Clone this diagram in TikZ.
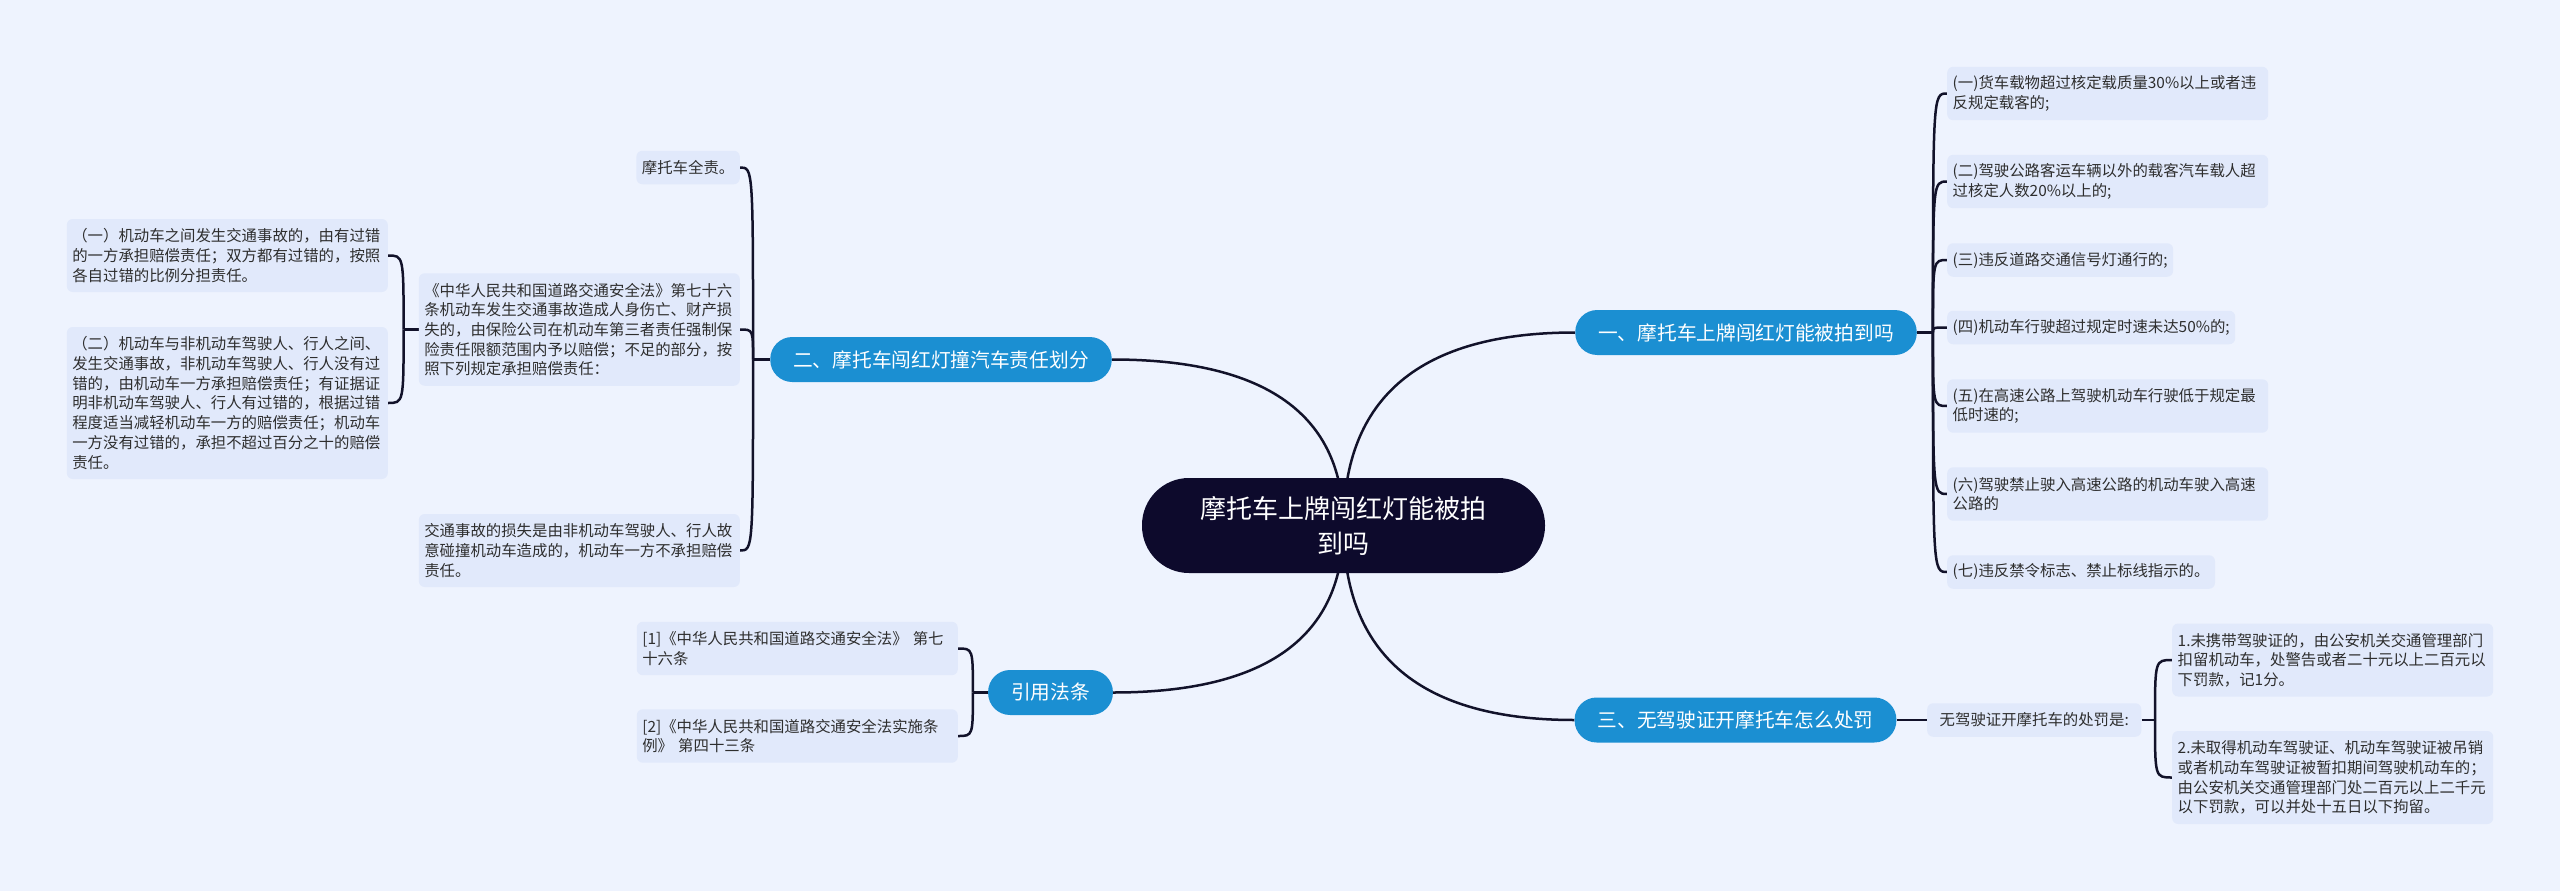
\documentclass[tikz,border=0pt]{standalone}
\usepackage{fontspec}
\newfontfamily\cjkf{Noto Sans CJK SC}
\usetikzlibrary{calc}
\pgfdeclarelayer{back}
\pgfdeclarelayer{links}
\pgfsetlayers{back,links,main}
\definecolor{bgc}{HTML}{EEF3FE}
\definecolor{leafc}{HTML}{E1E9FB}
\definecolor{brc}{HTML}{1B8FD2}
\definecolor{rootc}{HTML}{0D0A2C}
\definecolor{linec}{HTML}{12122A}
\definecolor{txtc}{HTML}{2E2E2E}
\tikzset{
  leaf/.style={fill=leafc, rounded corners=6pt, text=txtc, font=\cjkf\fontsize{15.4}{19.7}\selectfont, align=left, inner xsep=5.5pt, inner ysep=3pt},
  wide/.style={leaf, text width=310pt},
  branch/.style={fill=brc, text=white, rounded corners=22pt, minimum height=45pt, inner xsep=23pt, inner ysep=2pt, font=\cjkf\fontsize{19.7}{24}\selectfont},
  link/.style={draw=linec, line width=2.5pt},
  lnA/.style={minimum height=33.5pt},
  lnB/.style={minimum height=53.4pt},
  lnC/.style={minimum height=73pt},
  lnD/.style={minimum height=93pt},
  lnE/.style={minimum height=112.5pt},
  lnG/.style={minimum height=152pt},
}
\begin{document}
\begin{tikzpicture}[x=1pt,y=-1pt]
\useasboundingbox (0,0) rectangle (2560,891);
\begin{pgfonlayer}{back}
\fill[bgc] (0,0) rectangle (2560,891);
\end{pgfonlayer}

% root
\node[fill=rootc, text=white, rounded corners=47pt, minimum width=403pt, minimum height=95pt, align=center, inner sep=0pt, font=\cjkf\fontsize{26}{35}\selectfont] (root) at (1343.5,525.5) {摩托车上牌闯红灯能被拍\\到吗};

% branches
\node[branch] (b1) at (1746,332.5) {一、摩托车上牌闯红灯能被拍到吗};
\node[branch] (b2) at (941,359.5) {二、摩托车闯红灯撞汽车责任划分};
\node[branch] (b3) at (1735.5,720) {三、无驾驶证开摩托车怎么处罚};
\node[branch] (b4) at (1050.5,692.5) {引用法条};

% branch 1 leaves
\node[wide, lnB, anchor=west] (r1) at (1947,93.5) {(一)货车载物超过核定载质量30\%以上或者违\\反规定载客的;};
\node[wide, lnB, anchor=west] (r2) at (1947,181.5) {(二)驾驶公路客运车辆以外的载客汽车载人超\\过核定人数20\%以上的;};
\node[leaf, lnA, anchor=west] (r3) at (1947,260) {(三)违反道路交通信号灯通行的;};
\node[leaf, lnA, anchor=west] (r4) at (1947,327.5) {(四)机动车行驶超过规定时速未达50\%的;};
\node[wide, lnB, anchor=west] (r5) at (1947,406) {(五)在高速公路上驾驶机动车行驶低于规定最\\低时速的;};
\node[wide, lnB, anchor=west] (r6) at (1947,494) {(六)驾驶禁止驶入高速公路的机动车驶入高速\\公路的};
\node[leaf, lnA, anchor=west] (r7) at (1947,572) {(七)违反禁令标志、禁止标线指示的。};

% branch 2 leaves
\node[leaf, lnA, anchor=east] (l1) at (740,167.5) {摩托车全责。};
\node[wide, lnE, anchor=east] (l2) at (740,329.5) {《中华人民共和国道路交通安全法》第七十六\\条机动车发生交通事故造成人身伤亡、财产损\\失的，由保险公司在机动车第三者责任强制保\\险责任限额范围内予以赔偿；不足的部分，按\\照下列规定承担赔偿责任：};
\node[wide, lnC, anchor=east] (l3) at (740,550.5) {交通事故的损失是由非机动车驾驶人、行人故\\意碰撞机动车造成的，机动车一方不承担赔偿\\责任。};
\node[wide, lnC, anchor=east] (m1) at (388,255.5) {（一）机动车之间发生交通事故的，由有过错\\的一方承担赔偿责任；双方都有过错的，按照\\各自过错的比例分担责任。};
\node[wide, lnG, anchor=east] (m2) at (388,403) {（二）机动车与非机动车驾驶人、行人之间、\\发生交通事故，非机动车驾驶人、行人没有过\\错的，由机动车一方承担赔偿责任；有证据证\\明非机动车驾驶人、行人有过错的，根据过错\\程度适当减轻机动车一方的赔偿责任；机动车\\一方没有过错的，承担不超过百分之十的赔偿\\责任。};

% references
\node[wide, lnB, anchor=east] (c1) at (958,648.5) {[1]《中华人民共和国道路交通安全法》 第七\\十六条};
\node[wide, lnB, anchor=east] (c2) at (958,736) {[2]《中华人民共和国道路交通安全法实施条\\例》 第四十三条};

% branch 3
\node[leaf, lnA, anchor=west, inner xsep=12.5pt] (s) at (1927,720) {无驾驶证开摩托车的处罚是:};
\node[wide, lnC, anchor=west] (s1) at (2172,660) {1.未携带驾驶证的，由公安机关交通管理部门\\扣留机动车，处警告或者二十元以上二百元以\\下罚款，记1分。};
\node[wide, lnD, anchor=west] (s2) at (2172,777.5) {2.未取得机动车驾驶证、机动车驾驶证被吊销\\或者机动车驾驶证被暂扣期间驾驶机动车的；\\由公安机关交通管理部门处二百元以上二千元\\以下罚款，可以并处十五日以下拘留。};

% junctions
\coordinate (j1) at ($(b1.east)+(16,0)$);
\coordinate (j2) at ($(b2.west)+(-17,0)$);
\coordinate (jl) at ($(l2.west)+(-15,0)$);
\coordinate (j4) at ($(b4.west)+(-15,0)$);
\coordinate (js) at (2155,720);

\begin{pgfonlayer}{links}
% root to branches
\foreach \b/\a in {b1/west, b3/west, b2/east, b4/east} {
  \draw[link] (root.center) .. controls ($(root.center)!0.6667!(root.center |- \b.\a)$) and ($(\b.\a)!0.6667!(root.center |- \b.\a)$) .. (\b.\a);
}
% branch 1
\draw[link] (b1.east) -- (j1);
\foreach \c in {r1,r2,r3,r4,r5,r6,r7}
  \draw[link] (j1) .. controls (j1 |- \c.west) .. (\c.west);
% branch 2
\draw[link] (b2.west) -- (j2);
\foreach \c in {l1,l2,l3}
  \draw[link] (j2) .. controls (j2 |- \c.east) .. (\c.east);
\draw[link] (l2.west) -- (jl);
\foreach \c in {m1,m2}
  \draw[link] (jl) .. controls (jl |- \c.east) .. (\c.east);
% references
\draw[link] (b4.west) -- (j4);
\foreach \c in {c1,c2}
  \draw[link] (j4) .. controls (j4 |- \c.east) .. (\c.east);
% branch 3
\draw[link] (b3.east) -- (s.west);
\draw[link] (s.east) -- (js);
\foreach \c in {s1,s2}
  \draw[link] (js) .. controls (js |- \c.west) .. (\c.west);
\end{pgfonlayer}
\end{tikzpicture}
\end{document}
